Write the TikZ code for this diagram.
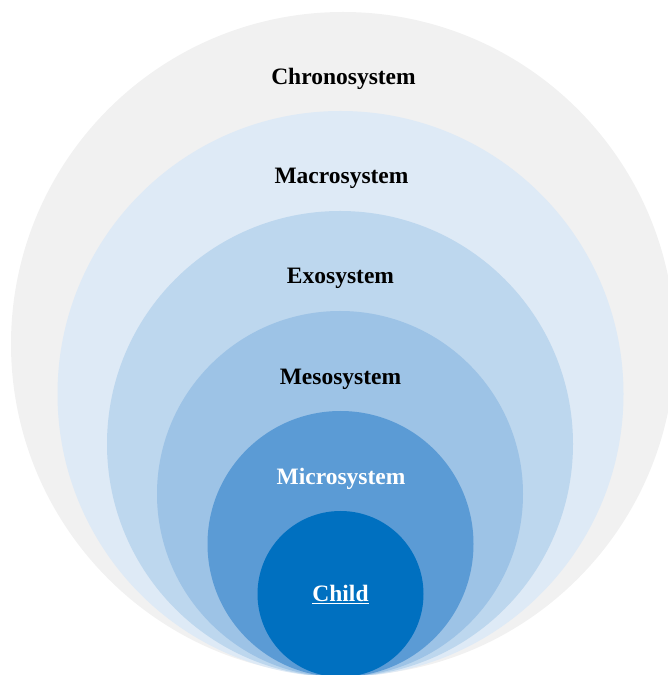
\documentclass[tikz,border=0pt]{standalone}
\usepackage{fontspec}
\setmainfont{Liberation Serif}
\begin{document}
\begin{tikzpicture}[x=1pt,y=1pt,
  ring/.style={circle, inner sep=0pt, draw=none, minimum size=#1},
  lbl/.style={anchor=base, font=\fontsize{23.5}{28}\selectfont\bfseries, text=black},
  lblw/.style={lbl, text=white}]
\definecolor{chronoC}{HTML}{F1F1F1}
\definecolor{macroC}{HTML}{DEEAF6}
\definecolor{exoC}{HTML}{BDD7EE}
\definecolor{mesoC}{HTML}{9DC3E6}
\definecolor{microC}{HTML}{5B9BD5}
\definecolor{childC}{HTML}{0070C0}
\useasboundingbox (0,0) rectangle (668,675);
\clip (0,0) rectangle (668,675);
% nested systems, all touching at the bottom
\node[ring=664, fill=chronoC] (chrono) at (343,331) {};
\node[ring=566, fill=macroC]  (macro)  at (340.5,281) {};
\node[ring=466, fill=exoC]    (exo)    at (340,231) {};
\node[ring=366, fill=mesoC]   (meso)   at (340,181) {};
\node[ring=266, fill=microC]  (micro)  at (340.5,131) {};
\node[ring=166, fill=childC]  (child)  at (340.5,81) {};
% labels
\node[lbl]  (tchrono) at (343.5,590) {Chronosystem};
\node[lbl]  (tmacro)  at (341.5,491) {Macrosystem};
\node[lbl]  (texo)    at (340.5,391) {Exosystem};
\node[lbl]  (tmeso)   at (340.5,290) {Mesosystem};
\node[lblw] (tmicro)  at (341,190) {Microsystem};
\node[lblw] (tchild)  at (340.5,73) {\underline{Child}};
\end{tikzpicture}
\end{document}
